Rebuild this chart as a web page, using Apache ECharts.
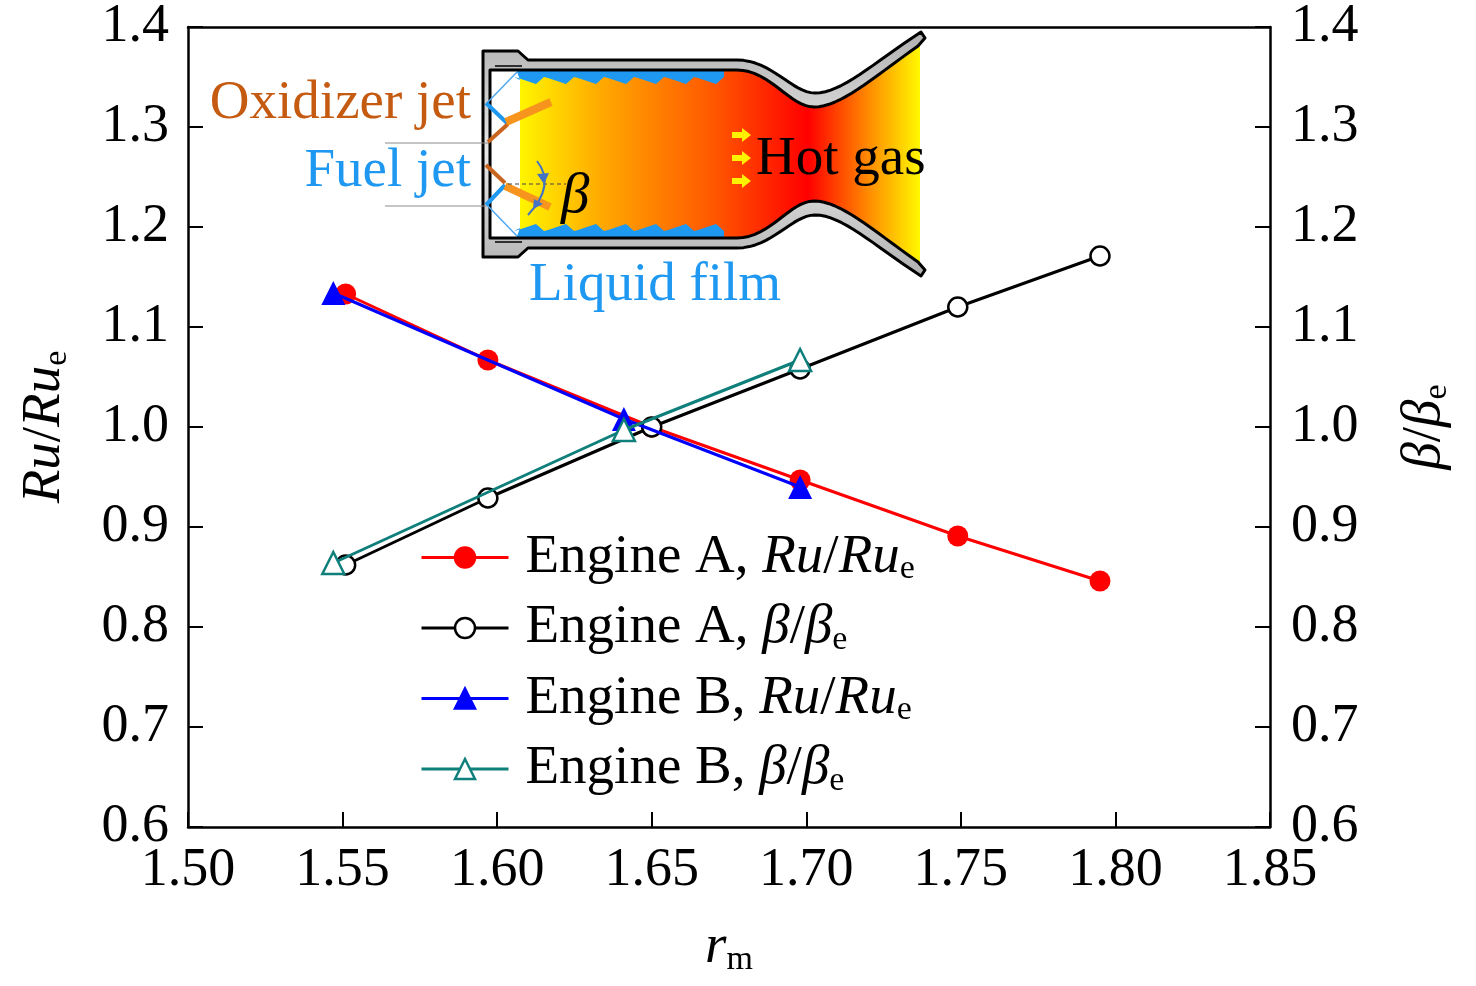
<!DOCTYPE html>
<html>
<head>
<meta charset="utf-8">
<script src="https://cdn.jsdelivr.net/npm/echarts@6/dist/echarts.min.js"></script>
<style>
  html, body { margin: 0; padding: 0; background: #fff; }
  #chart { width: 1476px; height: 986px; }
</style>
</head>
<body>
<div id="chart"></div>
<script>
// ---- data ----
const xTicks = [1.50, 1.55, 1.60, 1.65, 1.70, 1.75, 1.80, 1.85];
const yTicks = [0.6, 0.7, 0.8, 0.9, 1.0, 1.1, 1.2, 1.3, 1.4];

const rmA = [1.551, 1.597, 1.650, 1.698, 1.749, 1.795];
const ruA = [1.133, 1.067, 1.000, 0.947, 0.891, 0.846];
const betaA = [0.862, 0.929, 1.000, 1.058, 1.120, 1.171];

const rmB = [1.547, 1.641, 1.698];
const ruB = [1.134, 1.008, 0.940];
const betaB = [0.864, 0.997, 1.067];

const FONT = "Liberation Serif";

const pairs = (xs, ys) => xs.map((x, i) => [x, ys[i]]);

const rich = {
  n: { fontFamily: FONT, fontSize: 55, color: "#000", lineHeight: 58 },
  i: { fontFamily: FONT, fontSize: 55, fontStyle: "italic", color: "#000", lineHeight: 58 },
  s: { fontFamily: FONT, fontSize: 34, color: "#000", verticalAlign: "bottom" },
};

const legendText = {
  "Engine A, Ru": "{n|Engine A, }{i|Ru}{n|/}{i|Ru}{s|e}",
  "Engine A, beta": "{n|Engine A, }{i|β}{n|/}{i|β}{s|e}",
  "Engine B, Ru": "{n|Engine B, }{i|Ru}{n|/}{i|Ru}{s|e}",
  "Engine B, beta": "{n|Engine B, }{i|β}{n|/}{i|β}{s|e}",
};

/*
 * ============ nozzle sketch (inset) ============ */
const m = (y) => 308 - y; // mirror about the nozzle axis

// turn a list of ["L",x,y] / ["C",c1x,c1y,c2x,c2y,x,y] into polygon points
function trace(start, segs) {
  let pts = [start];
  let [px, py] = start;
  segs.forEach((s) => {
    if (s[0] === "L") {
      pts.push([s[1], s[2]]);
      px = s[1]; py = s[2];
    } else {
      const [, ax, ay, bx, by, x, y] = s;
      for (let k = 1; k <= 16; ++k) {
        const t = k / 16, u = 1 - t;
        pts.push([
          u * u * u * px + 3 * u * u * t * ax + 3 * u * t * t * bx + t * t * t * x,
          u * u * u * py + 3 * u * u * t * ay + 3 * u * t * t * by + t * t * t * y,
        ]);
      }
      px = x; py = y;
    }
  });
  return pts;
}

const wallPts = trace([483, 51], [
  ["L", 518, 51], ["L", 528, 60], ["L", 737, 60],
  ["C", 772, 60, 792, 93, 815, 93], ["C", 842, 93, 872, 64, 921, 32],
  ["L", 925, 38], ["L", 918, 46],
  ["C", 870, 80, 840, 107, 814, 107], ["C", 790, 107, 770, 70, 737, 70],
  ["L", 490, 70], ["L", 490, m(70)], ["L", 737, m(70)],
  ["C", 770, m(70), 790, m(107), 814, m(107)], ["C", 840, m(107), 870, m(80), 918, m(46)],
  ["L", 925, m(38)], ["L", 921, m(32)],
  ["C", 872, m(64), 842, m(93), 815, m(93)], ["C", 792, m(93), 772, m(60), 737, m(60)],
  ["L", 528, m(60)], ["L", 518, m(51)], ["L", 483, m(51)],
]);

const gasPts = trace([520, 70], [
  ["L", 737, 70],
  ["C", 770, 70, 790, 107, 814, 107], ["C", 840, 107, 870, 80, 918, 46],
  ["L", 920, 46], ["L", 920, m(46)], ["L", 918, m(46)],
  ["C", 870, m(80), 840, m(107), 814, m(107)], ["C", 790, m(107), 770, m(70), 737, m(70)],
  ["L", 520, m(70)],
]);

function filmPts(flip) {
  const f = flip ? m : (y) => y;
  let pts = [[516, f(69)], [724, f(69)], [724, f(77)]];
  for (let x = 724; x > 540; x -= 30) {
    pts.push([x - 8, f(84)], [x - 26, f(78)], [x - 30, f(77)]);
  }
  pts.push([520, f(80)]);
  return pts;
}

function arrowPts(y) {
  return [[732, y - 3], [742, y - 3], [742, y - 7], [751, y], [742, y + 7], [742, y + 3], [732, y + 3]];
}

const poly = (points, style) => ({ type: "polygon", shape: { points }, style });

const line = (x1, y1, x2, y2, stroke, w, dash) => ({
  type: "line",
  shape: { x1, y1, x2, y2 },
  style: { stroke, lineWidth: w, lineDash: dash || null, lineCap: "butt" },
});

const txt = (x, y, text, fill, font, align) => ({
  type: "text",
  x, y,
  style: { text, fill, font, textAlign: align || "left", textVerticalAlign: "middle" },
});

const inset = [
  poly(gasPts, {
    fill: {
      type: "linear", x: 0, y: 0, x2: 1, y2: 0,
      colorStops: [
        { offset: 0, color: "#FFF500" },
        { offset: 0.2, color: "#FFAA00" },
        { offset: 0.5, color: "#FF5200" },
        { offset: 0.72, color: "#FF0000" },
        { offset: 0.87, color: "#FF8A00" },
        { offset: 1, color: "#FFF800" },
      ],
    },
  }),
  poly(filmPts(false), { fill: "#1E98F0" }),
  poly(filmPts(true), { fill: "#1E98F0" }),
  poly(wallPts, {
    fill: {
      type: "linear", x: 0, y: 0, x2: 0, y2: 1,
      colorStops: [
        { offset: 0, color: "#B0B0B0" },
        { offset: 0.5, color: "#E8E8E8" },
        { offset: 1, color: "#B0B0B0" },
      ],
    },
    stroke: "#000",
    lineWidth: 3,
    lineJoin: "round",
  }),
  line(495, 66, 522, 66, "#000", 1.5),
  line(495, m(66), 522, m(66), "#000", 1.5),
  // injector
  line(487, 103, 517, 72, "#4FA8F0", 1.5),
  line(487, 205, 517, 236, "#4FA8F0", 1.5),
  line(486, 103, 507, 123, "#1E98F0", 4),
  line(486, 205, 505, 185, "#1E98F0", 4),
  line(488, 142, 508, 124, "#C8641E", 4),
  line(486, 165, 505, 183, "#C8641E", 4),
  line(506, 122, 551, 102, "#F7941D", 8),
  line(505, 186, 550, 207, "#F7941D", 8),
  // leaders
  line(385, 143, 488, 143, "#8C8C8C", 1),
  line(385, 206, 486, 206, "#8C8C8C", 1),
  line(508, 184, 566, 184, "#444", 1.2, [4, 3]),
  {
    type: "bezierCurve",
    shape: { x1: 537, y1: 161, x2: 528, y2: 215, cpx1: 556, cpy1: 185 },
    style: { stroke: "#4472C4", lineWidth: 2, fill: null },
  },
  poly([[537, 174], [549, 173], [544, 184]], { fill: "#4472C4" }),
  poly([[534, 199], [543, 204], [533, 209]], { fill: "#4472C4" }),
  poly(arrowPts(135), { fill: "#FFF200" }),
  poly(arrowPts(158), { fill: "#FFF200" }),
  poly(arrowPts(181), { fill: "#FFF200" }),
  // labels
  txt(471, 104, "Oxidizer jet", "#C55A11", `55px "${FONT}"`, "right"),
  txt(471, 172, "Fuel jet", "#1E98F0", `55px "${FONT}"`, "right"),
  txt(529, 286, "Liquid film", "#1E98F0", `55px "${FONT}"`),
  txt(756, 160, "Hot gas", "#000", `55px "${FONT}"`),
  txt(561, 197, "β", "#000", `italic 57px "${FONT}"`),
];

/*
 * ============ chart ============ */
const dom = document.getElementById("chart");
const myChart = echarts.init(dom, null, { renderer: "canvas" });

const yAxisBase = (pos) => ({
  type: "value",
  position: pos,
  min: yTicks[0],
  max: yTicks[yTicks.length - 1],
  interval: 0.1,
  axisLine: { show: true, onZero: false, lineStyle: { color: "#000", width: 2.5 } },
  axisTick: { show: true, inside: true, length: 15, lineStyle: { color: "#000", width: 2 } },
  axisLabel: {
    margin: pos === "left" ? 19 : 21,
    fontFamily: FONT, fontSize: 54, color: "#000",
    formatter: (v) => v.toFixed(1),
  },
  splitLine: { show: false },
  nameLocation: "middle",
  nameRotate: 90,
});

const legendItem = (name, color, fill) => ({
  name,
  lineStyle: { color, width: 3 },
  itemStyle: { color: fill, borderColor: color, borderWidth: 2.5 },
});

const option = {
  animation: false,
  backgroundColor: "#fff",
  grid: { left: 188, right: 206, top: 23, bottom: 159, containLabel: false },
  xAxis: [
    {
      type: "value",
      min: xTicks[0],
      max: xTicks[xTicks.length - 1],
      interval: 0.05,
      axisLine: { show: true, onZero: false, lineStyle: { color: "#000", width: 2.5 } },
      axisTick: { show: true, inside: true, length: 15, lineStyle: { color: "#000", width: 2 } },
      axisLabel: {
        margin: 17,
        fontFamily: FONT, fontSize: 54, color: "#000",
        formatter: (v) => v.toFixed(2),
      },
      splitLine: { show: false },
      name: "{i|r}{s|m}",
      nameLocation: "middle",
      nameGap: 92,
      nameTextStyle: { rich },
    },
    {
      type: "value",
      position: "top",
      min: xTicks[0],
      max: xTicks[xTicks.length - 1],
      axisLine: { show: true, onZero: false, lineStyle: { color: "#000", width: 2.5 } },
      axisTick: { show: false },
      axisLabel: { show: false },
      splitLine: { show: false },
    },
  ],
  yAxis: [
    Object.assign(yAxisBase("left"), {
      name: "{i|Ru}{n|/}{i|Ru}{s|e}",
      nameGap: 114,
      nameTextStyle: { rich },
    }),
    Object.assign(yAxisBase("right"), {
      name: "{i|β}{n|/}{i|β}{s|e}",
      nameGap: 126,
      nameTextStyle: { rich },
    }),
  ],
  legend: {
    orient: "vertical",
    left: 420,
    top: 530,
    padding: 0,
    itemWidth: 87,
    itemHeight: 25,
    itemGap: 14,
    data: [
      legendItem("Engine A, Ru", "#FF0000", "#FF0000"),
      legendItem("Engine A, beta", "#000", "#fff"),
      legendItem("Engine B, Ru", "#0000FF", "#0000FF"),
      legendItem("Engine B, beta", "#0E7F7A", "#fff"),
    ],
    formatter: (name) => legendText[name],
    textStyle: { rich, padding: [0, 0, 0, 12] },
  },
  graphic: { elements: inset },
  series: [
    {
      name: "Engine A, Ru",
      type: "line",
      yAxisIndex: 0,
      data: pairs(rmA, ruA),
      symbol: "circle",
      symbolSize: 21,
      lineStyle: { color: "#FF0000", width: 3 },
      itemStyle: { color: "#FF0000" },
      z: 2,
    },
    {
      name: "Engine A, beta",
      type: "line",
      yAxisIndex: 1,
      data: pairs(rmA, betaA),
      symbol: "circle",
      symbolSize: 19,
      lineStyle: { color: "#000", width: 3 },
      itemStyle: { color: "#fff", borderColor: "#000", borderWidth: 2.5 },
      z: 3,
    },
    {
      name: "Engine B, Ru",
      type: "line",
      yAxisIndex: 0,
      data: pairs(rmB, ruB),
      symbol: "triangle",
      symbolSize: 24,
      lineStyle: { color: "#0000FF", width: 3 },
      itemStyle: { color: "#0000FF" },
      z: 4,
    },
    {
      name: "Engine B, beta",
      type: "line",
      yAxisIndex: 1,
      data: pairs(rmB, betaB),
      symbol: "triangle",
      symbolSize: 22,
      lineStyle: { color: "#0E7F7A", width: 3 },
      itemStyle: { color: "#fff", borderColor: "#0E7F7A", borderWidth: 2.5 },
      z: 5,
    },
  ],
};

myChart.setOption(option);
</script>
</body>
</html>
